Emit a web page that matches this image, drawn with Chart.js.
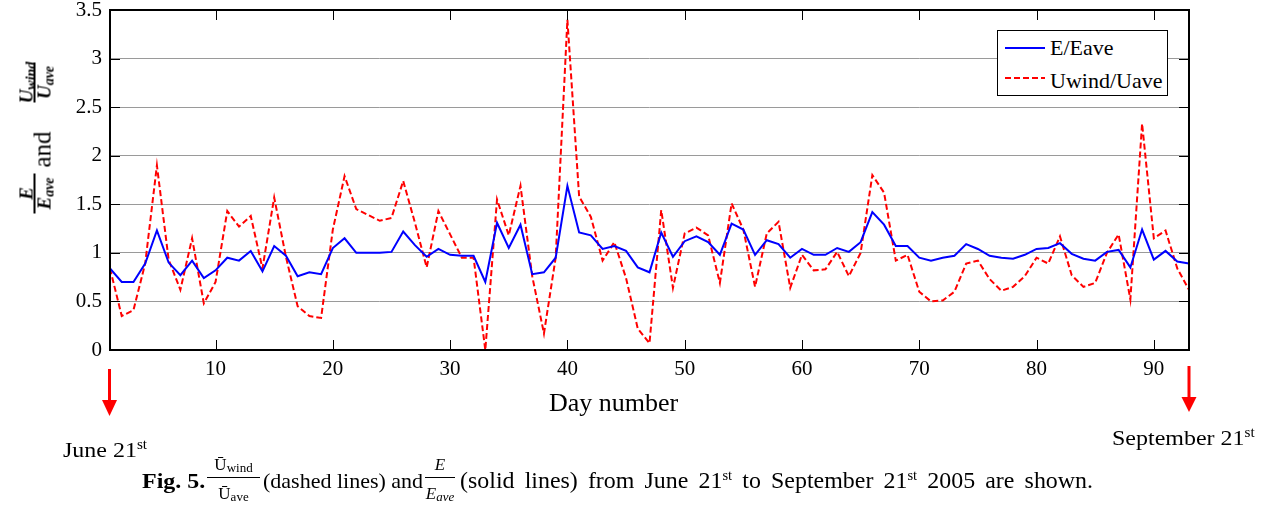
<!DOCTYPE html>
<html>
<head>
<meta charset="utf-8">
<script src="https://cdn.jsdelivr.net/npm/chart.js@4.4.1/dist/chart.umd.min.js"></script>
<style>
  body { margin: 0; background: #fff; }
  #wrap { position: relative; width: 1265px; height: 508px; overflow: hidden;
          font-family: "Liberation Serif", "Times New Roman", serif; color: #000; }
  #plot { position: absolute; left: 0; top: 0; }
  #overlay { position: absolute; left: 0; top: 0; pointer-events: none; }
  .t { position: absolute; white-space: nowrap; line-height: 22px; font-size: 22px; }
  .wide { transform: scaleX(1.09); transform-origin: 0 0; }
  .sup { font-size: 14px; position: relative; top: -8px; }
  .frac { position: absolute; }
  .frac .num, .frac .den { position: absolute; left: -6px; right: -6px; text-align: center; white-space: nowrap; }
  .frac .bar { position: absolute; left: 0; right: 0; background: #000; }
  #ytitle { position: absolute; width: 151px; height: 40px; left: -37.5px; top: 117.5px;
            transform: rotate(-90deg); transform-origin: 50% 50%; }
  .m { font-family: "Liberation Serif", serif; font-weight: bold; font-style: italic; }
  .legtxt { position: absolute; white-space: nowrap; font-size: 22px; line-height: 22px; }
</style>
</head>
<body>
<div id="wrap">
  <canvas id="plot" width="1265" height="508"></canvas>

  <svg id="overlay" width="1265" height="508">
    <!-- legend box -->
    <rect x="997.5" y="30.5" width="170" height="65" fill="#fff" stroke="#000" stroke-width="1"/>
    <line x1="1005" y1="48" x2="1045" y2="48" stroke="#0000ff" stroke-width="2"/>
    <line x1="1005" y1="78" x2="1045" y2="78" stroke="#ff0000" stroke-width="2" stroke-dasharray="6,3"/>
    <!-- start / end markers -->
    <line x1="109.5" y1="369" x2="109.5" y2="401" stroke="#ff0000" stroke-width="3"/>
    <polygon points="102,400 117,400 109.5,416" fill="#ff0000"/>
    <line x1="1189" y1="366" x2="1189" y2="398" stroke="#ff0000" stroke-width="3"/>
    <polygon points="1181.5,397 1196.5,397 1189,412" fill="#ff0000"/>
  </svg>

  <!-- legend entries -->
  <div class="legtxt" style="left:1050px; top:37px;">E/Eave</div>
  <div class="legtxt" style="left:1050px; top:70px;">Uwind/Uave</div>

  <!-- vertical axis title -->
  <div id="ytitle">
    <div class="frac m" style="left:0; top:0; width:40px; height:40px;">
      <div class="num" style="top:-1px; font-size:19px; line-height:17px;">E</div>
      <div class="bar" style="top:15px; height:2px;"></div>
      <div class="den" style="top:17px; font-size:19px; line-height:17px;">E<span style="font-size:14px; position:relative; top:3px;">ave</span></div>
    </div>
    <div class="t" style="left:46px; top:11px; font-size:25px; line-height:25px;">and</div>
    <div class="frac m" style="left:111px; top:0; width:40px; height:40px;">
      <div class="num" style="top:-1px; font-size:19px; line-height:17px;">U<span style="font-size:14px; position:relative; top:3px;">wind</span></div>
      <div class="bar" style="top:15px; height:2px;"></div>
      <div class="den" style="top:17px; font-size:19px; line-height:17px;">U<span style="font-size:14px; position:relative; top:3px;">ave</span></div>
    </div>
  </div>

  <!-- horizontal axis title -->
  <div class="t" style="left:549px; top:390px; font-size:26px; line-height:26px;">Day number</div>

  <!-- date markers -->
  <div class="t wide" style="left:63px; top:439px;">June 21<span class="sup">st</span></div>
  <div class="t wide" style="left:1112px; top:427px;">September 21<span class="sup">st</span></div>

  <!-- caption -->
  <div class="t wide" style="left:142px; top:470px; font-weight:bold;">Fig. 5.</div>
  <div class="frac" style="left:207px; top:455px; width:53px; height:50px;">
    <div class="num" style="top:1px; font-size:17px; line-height:17px;">Ū<span style="font-size:13px; position:relative; top:2px;">wind</span></div>
    <div class="bar" style="top:22px; height:1px;"></div>
    <div class="den" style="top:30px; font-size:17px; line-height:17px;">Ū<span style="font-size:13px; position:relative; top:2px;">ave</span></div>
  </div>
  <div class="t" style="left:263px; top:470px;">(dashed lines) and</div>
  <div class="frac" style="left:425px; top:455px; width:30px; height:50px; font-style:italic;">
    <div class="num" style="top:1px; font-size:17px; line-height:17px;">E</div>
    <div class="bar" style="top:22px; height:1px;"></div>
    <div class="den" style="top:30px; font-size:17px; line-height:17px;">E<span style="font-size:13px; position:relative; top:2px;">ave</span></div>
  </div>
  <div class="t" style="left:460px; top:469px; font-size:23px; line-height:23px; word-spacing:4px; transform:scaleX(1.04); transform-origin:0 0;">(solid lines) from June 21<span class="sup">st</span> to September 21<span class="sup">st</span> 2005 are shown.</div>
</div>

<script>
// Day numbers, June 21st (day 1) to September 21st (day 93)
const days = [
  1, 2, 3, 4, 5, 6, 7, 8, 9, 10, 11, 12, 13, 14, 15, 16, 17, 18, 19, 20,
  21, 22, 23, 24, 25, 26, 27, 28, 29, 30, 31, 32, 33, 34, 35, 36, 37, 38, 39, 40,
  41, 42, 43, 44, 45, 46, 47, 48, 49, 50, 51, 52, 53, 54, 55, 56, 57, 58, 59, 60,
  61, 62, 63, 64, 65, 66, 67, 68, 69, 70, 71, 72, 73, 74, 75, 76, 77, 78, 79, 80,
  81, 82, 83, 84, 85, 86, 87, 88, 89, 90, 91, 92, 93
];

// Daily energy relative to its average (E/Eave)
const energyRatio = [
  0.84, 0.70, 0.70, 0.89, 1.23, 0.90, 0.77, 0.92, 0.74, 0.82,
  0.95, 0.92, 1.02, 0.81, 1.07, 0.97, 0.76, 0.80, 0.78, 1.05,
  1.15, 1.00, 1.00, 1.00, 1.01, 1.22, 1.08, 0.96, 1.04, 0.98,
  0.97, 0.97, 0.70, 1.31, 1.05, 1.29, 0.78, 0.80, 0.95, 1.69,
  1.21, 1.18, 1.04, 1.07, 1.02, 0.85, 0.80, 1.21, 0.96, 1.12,
  1.17, 1.11, 0.98, 1.30, 1.24, 0.98, 1.13, 1.09, 0.95, 1.04,
  0.98, 0.98, 1.05, 1.01, 1.11, 1.42, 1.29, 1.07, 1.07, 0.95,
  0.92, 0.95, 0.97, 1.09, 1.04, 0.97, 0.95, 0.94, 0.98, 1.04,
  1.05, 1.10, 0.99, 0.94, 0.92, 1.01, 1.03, 0.85, 1.24, 0.93,
  1.02, 0.91, 0.89
];

// Daily wind speed relative to its average (Uwind/Uave)
const windRatio = [
  0.84, 0.35, 0.41, 0.89, 1.90, 0.93, 0.62, 1.15, 0.48, 0.70,
  1.43, 1.27, 1.38, 0.84, 1.57, 0.96, 0.45, 0.35, 0.33, 1.24,
  1.79, 1.45, 1.39, 1.33, 1.36, 1.74, 1.31, 0.85, 1.43, 1.19,
  0.95, 0.95, 0.00, 1.55, 1.18, 1.69, 0.76, 0.17, 0.95, 3.40,
  1.58, 1.37, 0.92, 1.11, 0.74, 0.22, 0.07, 1.44, 0.64, 1.20,
  1.26, 1.18, 0.69, 1.51, 1.24, 0.65, 1.20, 1.32, 0.64, 0.98,
  0.82, 0.83, 1.01, 0.76, 1.00, 1.80, 1.62, 0.92, 0.98, 0.60,
  0.50, 0.51, 0.60, 0.89, 0.92, 0.73, 0.61, 0.65, 0.76, 0.95,
  0.89, 1.17, 0.77, 0.65, 0.69, 1.00, 1.19, 0.52, 2.33, 1.15,
  1.23, 0.84, 0.62
];

const seriesNames = ['E/Eave', 'Uwind/Uave'];
const xTickValues = [10, 20, 30, 40, 50, 60, 70, 80, 90];
const yTickValues = [0, 0.5, 1, 1.5, 2, 2.5, 3, 3.5];
const yTickLabels = ['0', '0.5', '1', '1.5', '2', '2.5', '3', '3.5'];

const FONT = 'Liberation Serif';

// Frame around the plot area with short inward tick marks on all four sides
const framePlugin = {
  id: 'frame',
  afterDatasetsDraw(chart) {
    const { ctx, chartArea: a, scales } = chart;
    const len = 10;
    ctx.save();
    ctx.strokeStyle = '#000';
    ctx.lineWidth = 1;
    ctx.beginPath();
    scales.x.ticks.forEach(t => {
      const px = Math.round(scales.x.getPixelForValue(t.value)) + 0.5;
      ctx.moveTo(px, a.bottom); ctx.lineTo(px, a.bottom - len);
      ctx.moveTo(px, a.top); ctx.lineTo(px, a.top + len);
    });
    scales.y.ticks.forEach(t => {
      const py = Math.round(scales.y.getPixelForValue(t.value)) + 0.5;
      ctx.moveTo(a.left, py); ctx.lineTo(a.left + len, py);
      ctx.moveTo(a.right, py); ctx.lineTo(a.right - len, py);
    });
    ctx.stroke();
    ctx.lineWidth = 2;
    ctx.strokeRect(a.left, a.top, a.right - a.left, a.bottom - a.top);
    ctx.restore();
  }
};

new Chart(document.getElementById('plot'), {
  type: 'line',
  data: {
    datasets: [
      {
        label: seriesNames[0],
        data: days.map((d, i) => ({ x: d, y: energyRatio[i] })),
        borderColor: '#0000ff',
        borderWidth: 2,
        pointRadius: 0,
        tension: 0,
        fill: false
      },
      {
        label: seriesNames[1],
        data: days.map((d, i) => ({ x: d, y: windRatio[i] })),
        borderColor: '#ff0000',
        borderWidth: 2,
        borderDash: [6, 3],
        pointRadius: 0,
        tension: 0,
        fill: false
      }
    ]
  },
  options: {
    responsive: false,
    animation: false,
    events: [],
    layout: { padding: { left: 0, right: 76, top: 10, bottom: 0 } },
    plugins: { legend: { display: false }, tooltip: { enabled: false } },
    scales: {
      x: {
        type: 'linear',
        min: 1,
        max: 93,
        afterBuildTicks: s => { s.ticks = xTickValues.map(v => ({ value: v })); },
        afterFit: s => { s.height = 158; },
        grid: { display: false },
        border: { display: false },
        ticks: {
          color: '#000',
          font: { family: FONT, size: 21, lineHeight: 1 },
          padding: 1,
          maxRotation: 0,
          autoSkip: false
        }
      },
      y: {
        type: 'linear',
        min: 0,
        max: 3.5,
        afterBuildTicks: s => { s.ticks = yTickValues.map(v => ({ value: v })); },
        // fixed label column width; the top label may overhang the frame
        afterFit: s => { s.width = 110; s.paddingTop = 0; s.paddingBottom = 0; },
        grid: { color: '#9a9a9a', lineWidth: 1, drawTicks: false },
        border: { display: false },
        ticks: {
          color: '#000',
          font: { family: FONT, size: 21, lineHeight: 1 },
          padding: 8,
          autoSkip: false,
          callback: (v) => yTickLabels[yTickValues.indexOf(v)] ?? ''
        }
      }
    }
  },
  plugins: [framePlugin]
});
</script>
</body>
</html>
